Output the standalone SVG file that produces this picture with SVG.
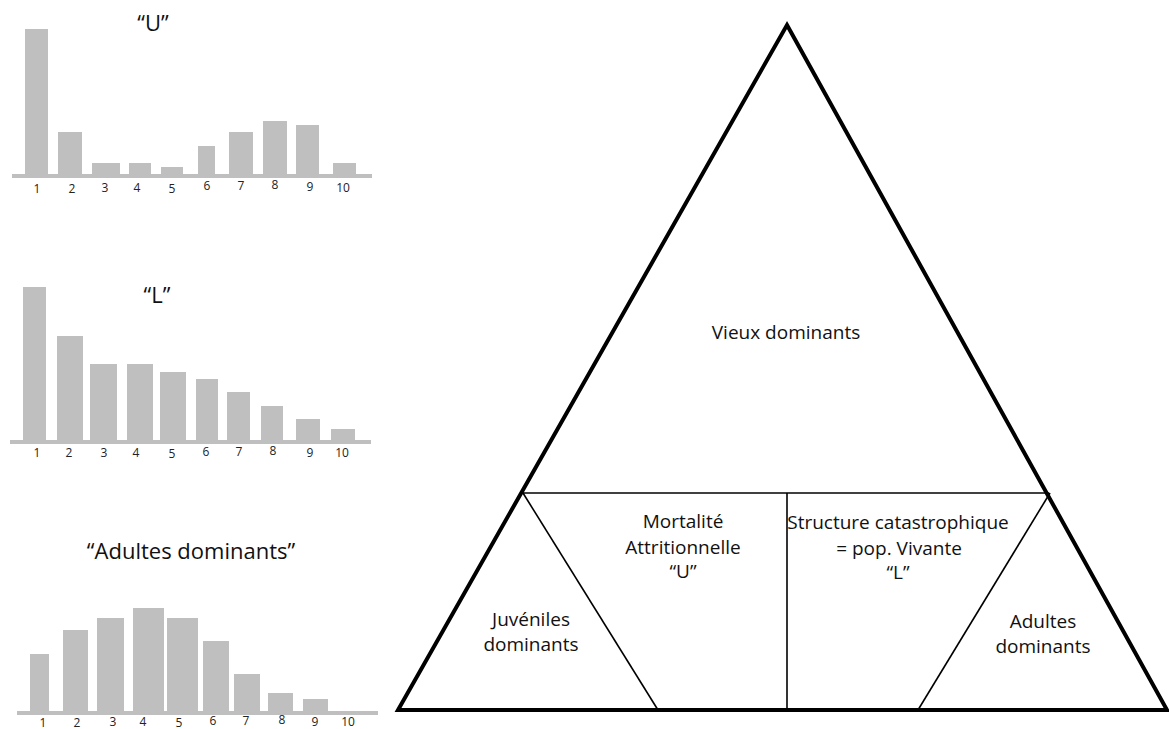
<svg xmlns="http://www.w3.org/2000/svg" width="1169" height="729" viewBox="0 0 1169 729">
<style>
.bar{fill:#bfbfbf}
.num{font-family:"Open Sans",sans-serif;font-size:12px;fill:#222;text-anchor:middle}
.title{font-family:"Open Sans",sans-serif;font-size:22px;fill:#111;text-anchor:middle}
.lbl{font-family:"Open Sans",sans-serif;font-size:19px;fill:#111;text-anchor:middle}
.outer{fill:none;stroke:#000;stroke-width:4;stroke-linejoin:miter}
.inner{fill:none;stroke:#000;stroke-width:1.6}
</style>
<rect width="1169" height="729" fill="#fff"/>
<g id="chart-U">
<text class="title" x="153" y="31">“U”</text>
<rect class="bar" x="25" y="29" width="23" height="146"/>
<rect class="bar" x="58" y="132" width="24" height="43"/>
<rect class="bar" x="92" y="163" width="28" height="12"/>
<rect class="bar" x="129" y="163" width="22" height="12"/>
<rect class="bar" x="161" y="167" width="22" height="8"/>
<rect class="bar" x="198" y="146" width="17" height="29"/>
<rect class="bar" x="229" y="132" width="24" height="43"/>
<rect class="bar" x="263" y="121" width="24" height="54"/>
<rect class="bar" x="296" y="125" width="23" height="50"/>
<rect class="bar" x="333" y="163" width="23" height="12"/>
<rect class="bar" x="12" y="174" width="360" height="4"/>
<text class="num" x="37" y="193">1</text>
<text class="num" x="72" y="193">2</text>
<text class="num" x="105" y="192">3</text>
<text class="num" x="137" y="192">4</text>
<text class="num" x="172" y="193">5</text>
<text class="num" x="207" y="190">6</text>
<text class="num" x="241" y="190">7</text>
<text class="num" x="275" y="189">8</text>
<text class="num" x="310" y="191">9</text>
<text class="num" x="343" y="192">10</text>
</g>
<g id="chart-L">
<text class="title" x="157" y="303">“L”</text>
<rect class="bar" x="23" y="287" width="23" height="155"/>
<rect class="bar" x="57" y="336" width="26" height="106"/>
<rect class="bar" x="90" y="364" width="27" height="78"/>
<rect class="bar" x="127" y="364" width="26" height="78"/>
<rect class="bar" x="160" y="372" width="26" height="70"/>
<rect class="bar" x="196" y="379" width="22" height="63"/>
<rect class="bar" x="227" y="392" width="23" height="50"/>
<rect class="bar" x="261" y="406" width="22" height="36"/>
<rect class="bar" x="296" y="419" width="24" height="23"/>
<rect class="bar" x="331" y="429" width="24" height="13"/>
<rect class="bar" x="10" y="440" width="361" height="4"/>
<text class="num" x="37" y="457">1</text>
<text class="num" x="69" y="457">2</text>
<text class="num" x="104" y="457">3</text>
<text class="num" x="136" y="457">4</text>
<text class="num" x="172" y="458">5</text>
<text class="num" x="206" y="456">6</text>
<text class="num" x="239" y="456">7</text>
<text class="num" x="273" y="455">8</text>
<text class="num" x="310" y="457">9</text>
<text class="num" x="342" y="457">10</text>
</g>
<g id="chart-adultes">
<text class="title" x="191" y="559">“Adultes dominants”</text>
<rect class="bar" x="30" y="654" width="19" height="59"/>
<rect class="bar" x="63" y="630" width="25" height="83"/>
<rect class="bar" x="97" y="618" width="27" height="95"/>
<rect class="bar" x="133" y="608" width="31" height="105"/>
<rect class="bar" x="167" y="618" width="31" height="95"/>
<rect class="bar" x="203" y="641" width="26" height="72"/>
<rect class="bar" x="234" y="674" width="26" height="39"/>
<rect class="bar" x="268" y="693" width="25" height="20"/>
<rect class="bar" x="303" y="699" width="25" height="14"/>
<rect class="bar" x="17" y="711" width="361" height="4"/>
<text class="num" x="43" y="727">1</text>
<text class="num" x="77" y="727">2</text>
<text class="num" x="113" y="726">3</text>
<text class="num" x="143" y="726">4</text>
<text class="num" x="179" y="727">5</text>
<text class="num" x="213" y="725">6</text>
<text class="num" x="246" y="725">7</text>
<text class="num" x="282" y="724">8</text>
<text class="num" x="315" y="726">9</text>
<text class="num" x="348" y="726">10</text>
</g>
<g id="connectors">
<polygon class="outer" points="787,25 1167,710 398,710"/>
<line class="inner" x1="523" y1="493" x2="1049" y2="493"/>
<line class="inner" x1="787" y1="493" x2="787" y2="710"/>
<line class="inner" x1="523" y1="493" x2="658" y2="710"/>
<line class="inner" x1="1050" y1="493" x2="918" y2="710"/>
</g>
<g id="vieux"><text class="lbl" x="786" y="339">Vieux dominants</text></g>
<g id="mortalite">
<text class="lbl" x="683" y="528">Mortalité</text>
<text class="lbl" x="683" y="554">Attritionnelle</text>
<text class="lbl" x="683" y="578">“U”</text>
</g>
<g id="catastrophique">
<text class="lbl" x="898" y="529">Structure catastrophique</text>
<text class="lbl" x="899" y="555">= pop. Vivante</text>
<text class="lbl" x="898" y="579">“L”</text>
</g>
<g id="juveniles">
<text class="lbl" x="531" y="626">Juvéniles</text>
<text class="lbl" x="531" y="651">dominants</text>
</g>
<g id="adultes">
<text class="lbl" x="1043" y="628">Adultes</text>
<text class="lbl" x="1043" y="653">dominants</text>
</g>
</svg>
